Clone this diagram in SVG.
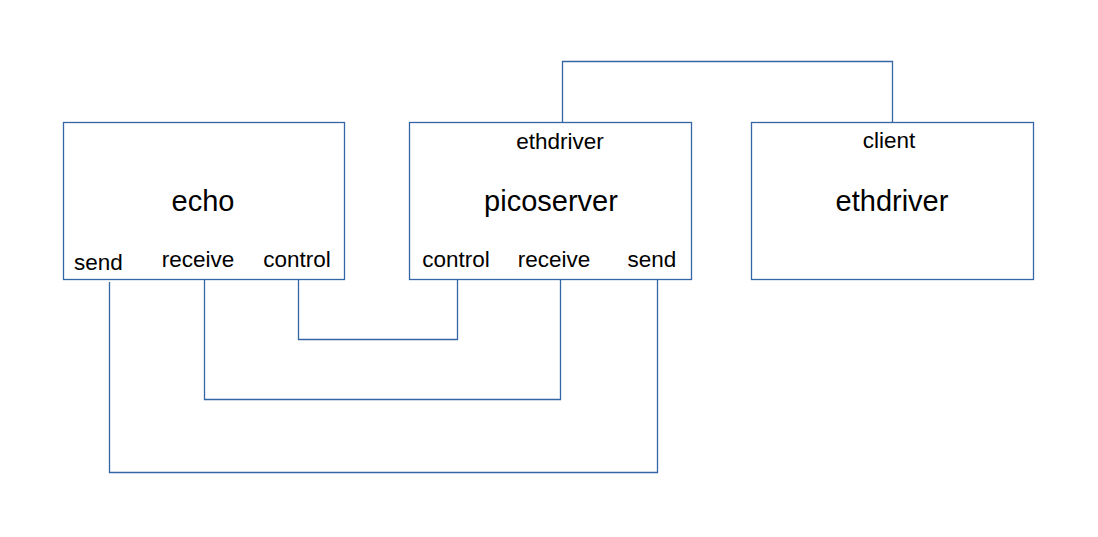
<svg xmlns="http://www.w3.org/2000/svg" width="1098" height="537" viewBox="0 0 1098 537">
<style>
.box{fill:#fff;stroke:#3465a4;stroke-width:1.3}
.wire{fill:none;stroke:#3465a4;stroke-width:1.3}
text{font-family:"Liberation Sans",Arial,sans-serif;fill:#000;text-anchor:middle}
.big{font-size:29px}
.small{font-size:22.5px}
</style>
<rect width="1098" height="537" fill="#fff"/>
<g id="connectors">
<polyline class="wire" points="109.5,282 109.5,472.5 657.5,472.5 657.5,279"/>
<polyline class="wire" points="204.5,279 204.5,399.5 560.5,399.5 560.5,279"/>
<polyline class="wire" points="298.5,279 298.5,339.5 457.5,339.5 457.5,279"/>
<polyline class="wire" points="562.5,122 562.5,61.5 892.5,61.5 892.5,122"/>
</g>
<g id="echo">
<rect class="box" x="63.5" y="122.5" width="281" height="157"/>
<text class="big" x="203" y="211">echo</text>
<text class="small" x="98.5" y="270">send</text>
<text class="small" x="198" y="267">receive</text>
<text class="small" x="297" y="267">control</text>
</g>
<g id="picoserver">
<rect class="box" x="409.5" y="122.5" width="282" height="157"/>
<text class="big" x="551" y="211">picoserver</text>
<text class="small" x="560" y="149">ethdriver</text>
<text class="small" x="456" y="267">control</text>
<text class="small" x="554" y="267">receive</text>
<text class="small" x="652" y="267">send</text>
</g>
<g id="ethdriver">
<rect class="box" x="751.5" y="122.5" width="282" height="157"/>
<text class="big" x="892" y="211">ethdriver</text>
<text class="small" x="889" y="148">client</text>
</g>
</svg>
